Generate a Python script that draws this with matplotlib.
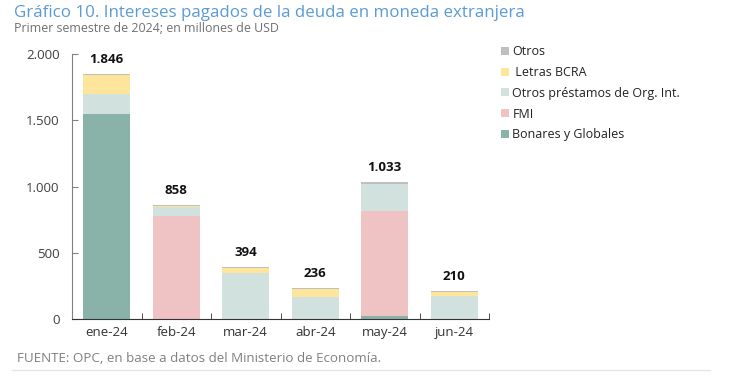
import matplotlib
matplotlib.use('Agg')
import matplotlib.pyplot as plt
import numpy as np
from matplotlib.patches import Patch
from matplotlib.lines import Line2D

plt.rcParams['font.family'] = ['Open Sans', 'DejaVu Sans']

meses = ['ene-24', 'feb-24', 'mar-24', 'abr-24', 'may-24', 'jun-24']
bonares = [1545, 0, 0, 0, 20, 0]
fmi = [0, 780, 0, 0, 793, 0]
otros_prest = [150, 63, 345, 166, 206, 174]
letras = [150, 12, 37, 58, 0, 30]
otros = [1, 3, 12, 12, 14, 6]
totales = [1846, 858, 394, 236, 1033, 210]

series = [
    ('Bonares y Globales', bonares, '#89b3a8'),
    ('FMI', fmi, '#efc2c4'),
    ('Otros préstamos de Org. Int.', otros_prest, '#d1e1dd'),
    (' Letras BCRA', letras, '#fde59b'),
    ('Otros', otros, '#bfbfbf'),
]

fig = plt.figure(figsize=(7.3, 3.77), dpi=100)
ax = fig.add_axes([72 / 730, 1 - 319 / 377, 417 / 730, 265 / 377])

x = np.arange(len(meses))
base = np.zeros(len(meses))
for nombre, vals, color in series:
    ax.bar(x, vals, bottom=base, width=0.68, color=color, label=nombre)
    base += np.array(vals)

for i, t in enumerate(totales):
    etiqueta = f'{t:,}'.replace(',', '.')
    ax.text(x[i], t + 60, etiqueta, ha='center', va='bottom', fontsize=9.5,
            fontweight='bold', color='#111111')

ax.set_xlim(-0.5, len(meses) - 0.5)
ax.set_ylim(0, 2000)
ax.set_yticks([0, 500, 1000, 1500, 2000])
ax.set_yticklabels(['0', '500', '1.000', '1.500', '2.000'])
ax.set_xticks(x)
ax.set_xticklabels(meses)
ax.set_xticks(np.arange(-0.5, len(meses)), minor=True)
ax.tick_params(axis='x', which='major', length=0, pad=5, labelsize=9.5, labelcolor='#333333')
ax.tick_params(axis='x', which='minor', direction='in', length=4, color='#333333')
ax.tick_params(axis='y', direction='in', length=4, pad=9, labelsize=9.5,
               labelcolor='#404040', color='#808080')
ax.spines['top'].set_visible(False)
ax.spines['right'].set_visible(False)
ax.spines['left'].set_color('#808080')
ax.spines['bottom'].set_color('#333333')

handles = [Patch(facecolor=c, edgecolor='none') for _, _, c in series][::-1]
labels = [n for n, _, _ in series][::-1]
leg = fig.legend(handles, labels, loc='upper left', bbox_to_anchor=(490 / 730, 1 - 34 / 377),
                 frameon=False, fontsize=9, handlelength=0.6, handleheight=0.6,
                 handletextpad=0.3, labelspacing=0.62, labelcolor='#222222')

fig.text(14 / 730, 1 - 13 / 377, 'Gráfico 10. Intereses pagados de la deuda en moneda extranjera',
         fontsize=12.2, color='#5b9bd5', va='center')
fig.text(14 / 730, 1 - 29 / 377, 'Primer semestre de 2024; en millones de USD',
         fontsize=8.9, color='#707070', va='center')
fig.text(17 / 730, 1 - 358 / 377, 'FUENTE: OPC, en base a datos del Ministerio de Economía.',
         fontsize=9.6, color='#808080', va='center')
fig.add_artist(Line2D([12 / 730, 710 / 730], [1 - 370 / 377, 1 - 370 / 377],
                      color='#e6e6e6', lw=1, transform=fig.transFigure))

fig.savefig('out.png', dpi=100)
